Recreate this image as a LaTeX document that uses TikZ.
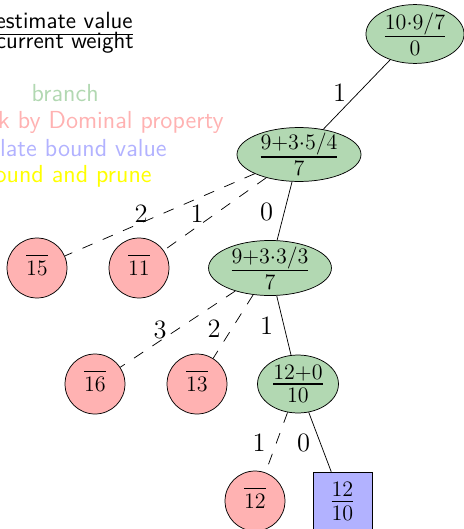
\documentclass[tikz,border=0pt]{standalone}
\usepackage{amsmath}
\usetikzlibrary{shapes.geometric}
\definecolor{brgreen}{RGB}{178,216,178}
\definecolor{prred}{RGB}{255,178,178}
\definecolor{bdblue}{RGB}{178,178,255}
\definecolor{pryellow}{RGB}{255,255,0}
\newcommand{\ovnum}[1]{$\overline{\rule{0pt}{9.2pt}\rule[-3pt]{0pt}{0pt}#1}$}
\begin{document}
\begin{tikzpicture}[x=0.5435pt,y=-0.5435pt,
  gnode/.style={ellipse,draw,fill=brgreen,inner xsep=0pt,inner ysep=-1.5pt,font=\LARGE},
  rnode/.style={circle,draw,fill=prred,minimum size=32.6pt,inner sep=0pt,font=\large},
  bnode/.style={rectangle,draw,fill=bdblue,minimum size=32pt,inner sep=0pt,font=\LARGE},
  dashedge/.style={dash pattern=on 6pt off 6pt},
  elabel/.style={font=\Large,inner sep=0pt},
  fraclegend/.style={font=\fontsize{12.75pt}{15pt}\selectfont\sffamily,anchor=base east,inner sep=0pt},
  legend/.style={font=\fontsize{13.4pt}{16pt}\selectfont\sffamily,anchor=base east,inner sep=0pt}]
\path[use as bounding box] (0,0) rectangle (464,529);
\clip (0,0) rectangle (464,529);
% legend
\node[fraclegend] (est) at (133,28.3) {\underline{estimate value\rule[-1.5pt]{0pt}{0pt}}};
\node[fraclegend] (cw) at (134,48.3) {current weight};
\node[legend,text=brgreen] (lgb) at (99,101.7) {branch};
\node[legend,text=prred] (lgd) at (224,128.3) {Check by Dominal property};
\node[legend,text=bdblue] (lgc) at (167,156) {Calculate bound value};
\node[legend,text=pryellow] (lgp) at (152,182.7) {Bound and prune};
% tree nodes
\node[gnode,minimum width=53.3pt,minimum height=32pt] (root) at (415,34) {$\frac{10\cdot9/7}{0}$};
\node[gnode,minimum width=67.4pt,minimum height=29.3pt] (n2) at (299,154.5) {$\frac{9+3\cdot5/4}{7}$};
\node[gnode,minimum width=66.8pt,minimum height=29.9pt] (n3) at (270,268) {$\frac{9+3\cdot3/3}{7}$};
\node[gnode,minimum width=44pt,minimum height=31.5pt] (n4) at (298,384) {$\frac{12+0}{10}$};
\node[rnode] (c15) at (37,268) {\ovnum{15}};
\node[rnode] (c11) at (139,268) {\ovnum{11}};
\node[rnode] (c16) at (95,384) {\ovnum{16}};
\node[rnode] (c13) at (197,384) {\ovnum{13}};
\node[rnode] (c12) at (255,501) {\ovnum{12}};
\node[bnode] (sq) at (342.5,501.5) {$\frac{12}{10}$};
% edges
\draw (root) -- (n2);
\draw (n2) -- (n3);
\draw[dashedge] (n2) -- (c15);
\draw[dashedge] (n2) -- (c11);
\draw[dashedge] (n3) -- (c16);
\draw[dashedge] (n3) -- (c13);
\draw (n3) -- (n4);
\draw[dashedge] (n4) -- (c12);
\draw (n4) -- (sq);
% edge labels
\node[elabel] (e1) at (339.5,92.5) {1};
\node[elabel] (e2) at (266.5,211.5) {0};
\node[elabel] (e3) at (141,214) {2};
\node[elabel] (e4) at (197,214) {1};
\node[elabel] (e5) at (160,330) {3};
\node[elabel] (e6) at (214,329) {2};
\node[elabel] (e7) at (266.5,326) {1};
\node[elabel] (e8) at (259,442.5) {1};
\node[elabel] (e9) at (303.5,442.5) {0};
\end{tikzpicture}
\end{document}
